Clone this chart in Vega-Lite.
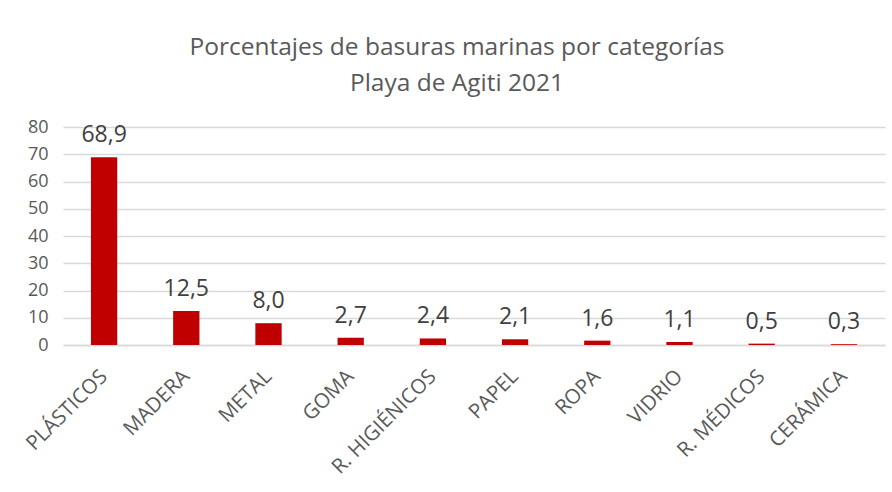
{
  "$schema": "https://vega.github.io/schema/vega-lite/v6.json",
  "autosize": {"type": "none"},
  "width": 822,
  "height": 218,
  "padding": {"left": 63, "top": 127, "right": 7, "bottom": 147},
  "background": "white",
  "config": {
    "locale": {"number": {"decimal": ",", "thousands": ".", "grouping": [3], "currency": ["", " €"]}},
    "view": {"stroke": null},
    "font": "Open Sans"
  },
  "title": {
    "text": ["Porcentajes de basuras marinas por categorías", "Playa de Agiti 2021"],
    "font": "Open Sans",
    "fontSize": 24.5,
    "fontWeight": "normal",
    "color": "#595959",
    "lineHeight": 36,
    "anchor": "middle",
    "dx": -17,
    "offset": 22
  },
  "data": {
    "values": [
      {"categoria": "PLÁSTICOS", "porcentaje": 68.9},
      {"categoria": "MADERA", "porcentaje": 12.5},
      {"categoria": "METAL", "porcentaje": 8.0},
      {"categoria": "GOMA", "porcentaje": 2.7},
      {"categoria": "R. HIGIÉNICOS", "porcentaje": 2.4},
      {"categoria": "PAPEL", "porcentaje": 2.1},
      {"categoria": "ROPA", "porcentaje": 1.6},
      {"categoria": "VIDRIO", "porcentaje": 1.1},
      {"categoria": "R. MÉDICOS", "porcentaje": 0.5},
      {"categoria": "CERÁMICA", "porcentaje": 0.3}
    ]
  },
  "encoding": {
    "x": {
      "field": "categoria",
      "type": "nominal",
      "sort": null,
      "scale": {"paddingInner": 0.68, "paddingOuter": 0.34},
      "axis": {
        "title": null,
        "labelAngle": -45,
        "labelAlign": "right",
        "labelBaseline": "middle",
        "labelFontSize": 20.5,
        "labelColor": "#595959",
        "labelPadding": 28,
        "ticks": false,
        "domainColor": "#d9d9d9",
        "domainWidth": 1.5
      }
    },
    "y": {
      "field": "porcentaje",
      "type": "quantitative",
      "scale": {"domain": [0, 80], "nice": false},
      "axis": {
        "title": null,
        "values": [0, 10, 20, 30, 40, 50, 60, 70, 80],
        "labelFontSize": 18,
        "labelColor": "#595959",
        "labelPadding": 15,
        "ticks": false,
        "domain": false,
        "gridColor": "#d9d9d9",
        "gridWidth": 1.5
      }
    }
  },
  "layer": [
    {"mark": {"type": "bar", "color": "#C00000"}},
    {
      "mark": {"type": "text", "baseline": "alphabetic", "dy": -15, "fontSize": 23, "color": "#404040"},
      "encoding": {"text": {"field": "porcentaje", "type": "quantitative", "format": ".1f"}}
    }
  ]
}
